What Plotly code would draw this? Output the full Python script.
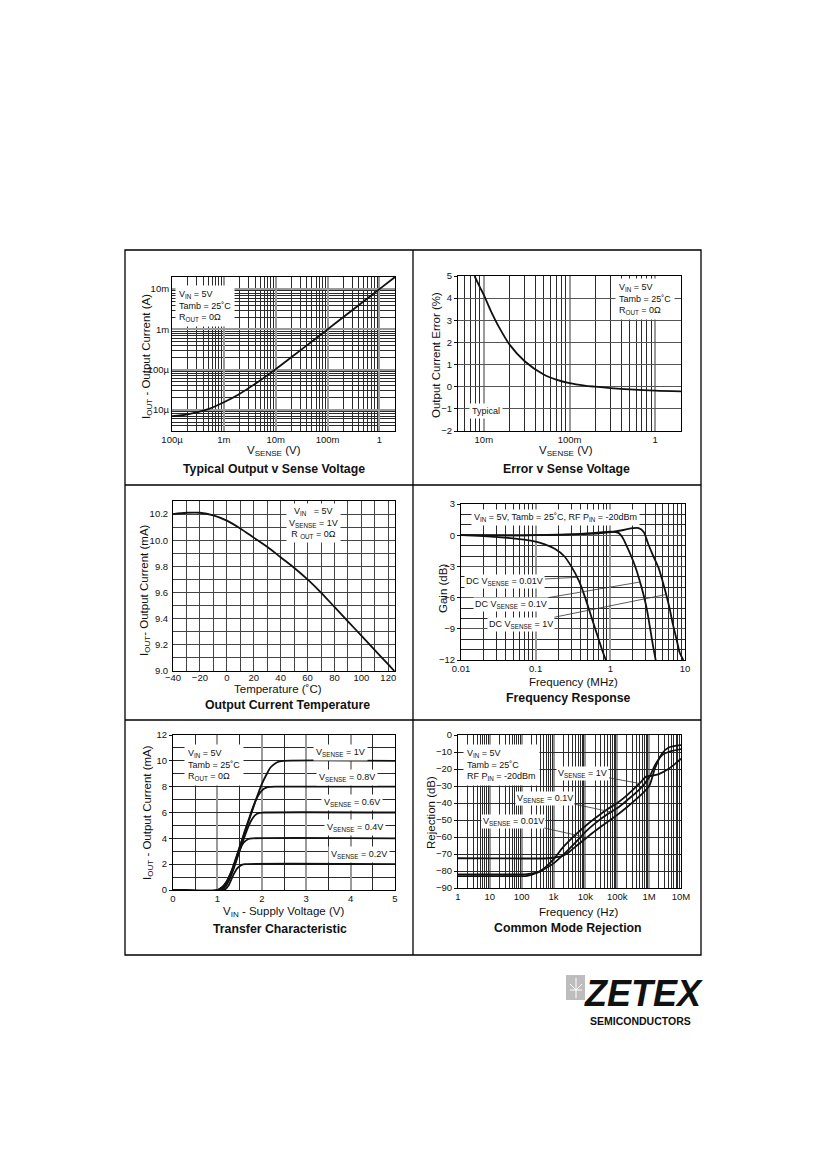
import math
import plotly.graph_objects as go

W, H = 826, 1169
OFF = 8  # page body margin of the html page
FONT = "Liberation Sans, Arial, Helvetica, sans-serif"

# ---------------- data ----------------
# Panel 1: Typical Output v Sense Voltage
p1_vsense = [1e-4, 2e-4, 5e-4, 1e-3, 2e-3, 5e-3, 1e-2, 2e-2, 5e-2, 0.1, 0.2, 0.5, 1.0, 2.0]
p1_iout = [7.0e-6, 7.8e-6, 1.05e-5, 1.55e-5, 2.5e-5, 5.4e-5, 1.03e-4, 2.03e-4,
           5.0e-4, 1.0e-3, 2.0e-3, 5.0e-3, 1.0e-2, 2.0e-2]
p1_xtickvals = [1e-4, 1e-3, 1e-2, 1e-1, 1]
p1_xticktext = ["100µ", "1m", "10m", "100m", "1"]
p1_ytickvals = [1e-5, 1e-4, 1e-3, 1e-2]
p1_yticktext = ["10µ", "100µ", "1m", "10m"]

# Panel 2: Error v Sense Voltage
p2_vsense = [0.0078, 0.009, 0.01, 0.012, 0.015, 0.02, 0.03, 0.05, 0.07, 0.1,
             0.15, 0.2, 0.3, 0.5, 1.0, 2.0]
p2_error = [5.0, 4.5, 4.15, 3.45, 2.7, 1.9, 1.15, 0.55, 0.32, 0.16,
            0.05, 0.0, -0.06, -0.12, -0.18, -0.21]
p2_xtickvals = [0.01, 0.1, 1]
p2_xticktext = ["10m", "100m", "1"]

# Panel 3: Output Current Temperature
p3_temp = [-40, -30, -20, -10, 0, 10, 20, 30, 40, 50, 60, 70, 80, 90, 100, 110, 120, 124.5]
p3_iout = [10.2, 10.21, 10.21, 10.19, 10.15, 10.09, 10.02, 9.95, 9.87, 9.79,
           9.70, 9.60, 9.49, 9.38, 9.27, 9.16, 9.05, 9.0]

# Panel 4: Frequency Response (MHz, dB)
p4_f_001 = [0.01, 0.02, 0.05, 0.09, 0.13, 0.18, 0.24, 0.3, 0.38, 0.46, 0.56, 0.69, 0.8, 0.87]
p4_g_001 = [0.0, -0.08, -0.3, -0.55, -0.85, -1.3, -2.0, -3.0, -4.4, -6.0, -7.9, -9.9, -11.3, -12.0]
p4_f_01 = [0.01, 0.05, 0.1, 0.2, 0.4, 0.7, 1.0, 1.3, 1.45, 1.6, 1.9, 2.2, 2.5, 2.8, 3.1, 3.4, 3.7, 4.05]
p4_g_01 = [0.0, -0.02, 0.0, 0.05, 0.12, 0.25, 0.35, 0.2, -0.2, -0.8, -2.0, -3.2, -4.5, -5.8, -7.2, -8.9, -10.5, -12.0]
p4_f_1 = [0.01, 0.05, 0.1, 0.2, 0.4, 0.7, 1.0, 1.5, 2.0, 2.4, 2.8, 3.2, 3.7, 4.4, 5.0, 5.6,
          6.2, 6.9, 7.7, 8.5, 9.5]
p4_g_1 = [0.0, -0.02, 0.0, 0.03, 0.1, 0.18, 0.3, 0.5, 0.68, 0.68, 0.3, -0.8, -1.9, -3.1, -4.4, -5.7,
          -7.0, -8.6, -10.0, -11.3, -12.0]
p4_xtickvals = [0.01, 0.1, 1, 10]
p4_xticktext = ["0.01", "0.1", "1", "10"]

# Panel 5: Transfer Characteristic (V, mA)
p5_vin_1 = [0, 1.0, 1.1, 1.2, 1.3, 1.4, 1.5, 1.6, 1.7, 1.8, 1.9, 2.0, 2.1, 2.2, 2.3, 2.4, 2.5, 5]
p5_i_1 = [0, 0, 0.2, 0.6, 1.3, 2.2, 3.3, 4.3, 5.3, 6.3, 7.3, 8.2, 8.9, 9.5, 9.8, 9.95, 10, 10]
p5_vin_08 = [0, 1.0, 1.1, 1.2, 1.3, 1.4, 1.5, 1.6, 1.7, 1.8, 1.9, 2.0, 2.1, 2.2, 2.3, 5]
p5_i_08 = [0, 0, 0.2, 0.6, 1.3, 2.3, 3.3, 4.4, 5.4, 6.4, 7.2, 7.7, 7.92, 7.98, 8, 8]
p5_vin_06 = [0, 1.05, 1.15, 1.25, 1.35, 1.45, 1.55, 1.65, 1.75, 1.85, 1.95, 2.05, 5]
p5_i_06 = [0, 0, 0.25, 0.7, 1.5, 2.5, 3.5, 4.5, 5.3, 5.8, 5.97, 6, 6]
p5_vin_04 = [0, 1.1, 1.2, 1.3, 1.4, 1.5, 1.6, 1.7, 1.8, 5]
p5_i_04 = [0, 0, 0.35, 1.1, 2.1, 3.1, 3.7, 3.95, 4, 4]
p5_vin_02 = [0, 1.15, 1.25, 1.35, 1.45, 1.55, 1.65, 5]
p5_i_02 = [0, 0, 0.35, 1.1, 1.7, 1.95, 2, 2]

# Panel 6: Common Mode Rejection (Hz, dB)
p6_f_1 = [1, 100, 150, 300, 500, 1e3, 2e3, 5e3, 1e4, 2e4, 5e4, 1e5, 2e5, 5e5, 8e5,
          1.2e6, 2e6, 4e6, 7e6, 1e7]
p6_r_1 = [-83, -83, -82.8, -81, -78.5, -73, -66, -58.5, -53.5, -49, -43.5, -40, -35.5, -28.5, -24.5,
          -24, -23, -20, -16.5, -14]
p6_f_01 = [1, 100, 150, 300, 500, 1e3, 2e3, 5e3, 1e4, 2e4, 5e4, 1e5, 2e5, 5e5, 1e6,
           1.5e6, 2.5e6, 4e6, 1e7]
p6_r_01 = [-82, -82, -81.8, -81, -79, -75.5, -70.5, -63, -57, -52, -46.5, -43, -38.5, -32, -25,
           -18, -12, -10, -8.3]
p6_f_001 = [1, 700, 1e3, 2e3, 3e3, 5e3, 1e4, 2e4, 5e4, 1e5, 2e5, 5e5, 1e6, 1.5e6, 2.5e6, 4e6, 1e7]
p6_r_001 = [-72.5, -72.5, -72.2, -71, -69, -65.5, -61, -56.5, -51, -47, -42.5, -36, -30, -20, -11,
            -7.5, -6]
p6_xtickvals = [1, 10, 100, 1e3, 1e4, 1e5, 1e6, 1e7]
p6_xticktext = ["1", "10", "100", "1k", "10k", "100k", "1M", "10M"]

# ---------------- geometry ----------------
# plot boxes in page pixels: (left, right, top, bottom)
BOX = {1: (172, 395, 277, 431), 2: (458, 681, 276, 431), 3: (173, 395, 501, 671),
       4: (461, 685, 504, 660), 5: (173, 395, 735, 890), 6: (458, 681, 735, 888)}
XLOG = {1: True, 2: True, 3: False, 4: True, 5: False, 6: True}
YLOG = {1: True, 2: False, 3: False, 4: False, 5: False, 6: False}
XR = {1: [-4, math.log10(2)], 2: [math.log10(5e-3), math.log10(2)], 3: [-40, 125],
      4: [-2, 1], 5: [0, 5], 6: [0, 7]}
YR = {1: [math.log10(3e-6), math.log10(2e-2)], 2: [-2, 5], 3: [9.0, 10.3],
      4: [-12, 3], 5: [0, 12], 6: [-90, 0]}


def fx(x):
    return (x - OFF) / W


def fy(y):
    return 1 - (y - OFF) / H


def sfx(n):
    return "" if n == 1 else str(n)


def to_px(n, x, y):
    l, r, t, b = BOX[n]
    xv = math.log10(x) if XLOG[n] else x
    yv = math.log10(y) if YLOG[n] else y
    xa, xb = XR[n]
    ya, yb = YR[n]
    return l + (xv - xa) / (xb - xa) * (r - l), b - (yv - ya) / (yb - ya) * (b - t)


def log_minor(lo, hi):
    vals = []
    for e in range(-8, 9):
        for m in range(2, 10):
            v = m * 10.0 ** e
            if lo * 0.999 <= v <= hi * 1.001:
                vals.append(v)
    return vals


fig = go.Figure()


def curve(n, xs, ys):
    fig.add_trace(go.Scatter(x=xs, y=ys, mode="lines", xaxis="x" + sfx(n), yaxis="y" + sfx(n),
                             line=dict(color="#111", width=1.8, shape="spline", smoothing=0.8),
                             hoverinfo="skip", showlegend=False))


curve(1, p1_vsense, p1_iout)
curve(2, p2_vsense, p2_error)
curve(3, p3_temp, p3_iout)
curve(4, p4_f_001, p4_g_001)
curve(4, p4_f_01, p4_g_01)
curve(4, p4_f_1, p4_g_1)
for xs, ys in [(p5_vin_1, p5_i_1), (p5_vin_08, p5_i_08), (p5_vin_06, p5_i_06),
               (p5_vin_04, p5_i_04), (p5_vin_02, p5_i_02)]:
    curve(5, xs, ys)
curve(6, p6_f_1, p6_r_1)
curve(6, p6_f_01, p6_r_01)
curve(6, p6_f_001, p6_r_001)

GRID_DARK = "#2a2a2a"
GRID_GRAY = "#9a9a9a"


def base_axis(n, which):
    l, r, t, b = BOX[n]
    d = dict(showline=True, mirror=True, linecolor="black", linewidth=1, zeroline=False,
             ticks="", tickfont=dict(size=9.5, color="#111", family=FONT), showgrid=True,
             fixedrange=True, automargin=False)
    if which == "x":
        d.update(domain=[fx(l), fx(r)], anchor="y" + sfx(n), range=XR[n],
                 type="log" if XLOG[n] else "linear")
    else:
        d.update(domain=[fy(b), fy(t)], anchor="x" + sfx(n), range=YR[n],
                 type="log" if YLOG[n] else "linear")
    return d


axes = {}
# panel 1
a = base_axis(1, "x")
a.update(tickmode="array", tickvals=p1_xtickvals, ticktext=p1_xticktext, gridcolor=GRID_GRAY, gridwidth=2.2,
         minor=dict(tickmode="array", tickvals=log_minor(1e-4, 2), showgrid=True, gridcolor=GRID_DARK, gridwidth=0.7))
axes["xaxis"] = a
a = base_axis(1, "y")
a.update(tickmode="array", tickvals=p1_ytickvals, ticktext=p1_yticktext, gridcolor=GRID_GRAY, gridwidth=2.2,
         minor=dict(tickmode="array", tickvals=log_minor(3e-6, 2e-2), showgrid=True, gridcolor=GRID_DARK, gridwidth=0.7))
axes["yaxis"] = a
# panel 2
a = base_axis(2, "x")
a.update(tickmode="array", tickvals=p2_xtickvals, ticktext=p2_xticktext, gridcolor=GRID_GRAY, gridwidth=2.2,
         minor=dict(tickmode="array", tickvals=log_minor(5e-3, 2), showgrid=True, gridcolor=GRID_DARK, gridwidth=0.7))
axes["xaxis2"] = a
a = base_axis(2, "y")
a.update(tick0=-2, dtick=1, gridcolor="#555", gridwidth=1, ticks="outside", ticklen=3, tickcolor="#111")
axes["yaxis2"] = a
# panel 3
a = base_axis(3, "x")
a.update(tick0=-40, dtick=20, gridcolor="#444", gridwidth=0.9, ticklabelstandoff=-2,
         minor=dict(tick0=-40, dtick=10, showgrid=True, gridcolor="#444", gridwidth=0.9))
axes["xaxis3"] = a
a = base_axis(3, "y")
a.update(tick0=9.0, dtick=0.2, tickformat=".1f", gridcolor="#444", gridwidth=0.9, ticklabelstandoff=2,
         minor=dict(tick0=9.0, dtick=0.1, showgrid=True, gridcolor="#444", gridwidth=0.9))
axes["yaxis3"] = a
# panel 4
a = base_axis(4, "x")
a.update(tickmode="array", tickvals=p4_xtickvals, ticktext=p4_xticktext, gridcolor=GRID_GRAY, gridwidth=2.2,
         minor=dict(tickmode="array", tickvals=log_minor(0.01, 10), showgrid=True, gridcolor=GRID_DARK, gridwidth=0.7))
axes["xaxis4"] = a
a = base_axis(4, "y")
a.update(tick0=-12, dtick=3, gridcolor="#555", gridwidth=1, ticks="outside", ticklen=3, tickcolor="#111",
         minor=dict(tick0=-12, dtick=1, showgrid=True, gridcolor=GRID_DARK, gridwidth=0.7))
axes["yaxis4"] = a
# panel 5
a = base_axis(5, "x")
a.update(tick0=0, dtick=1, gridcolor=GRID_GRAY, gridwidth=1.8,
         minor=dict(tick0=0, dtick=0.5, showgrid=True, gridcolor=GRID_DARK, gridwidth=0.7))
axes["xaxis5"] = a
a = base_axis(5, "y")
a.update(tick0=0, dtick=2, gridcolor=GRID_DARK, gridwidth=0.8, ticks="outside", ticklen=3, tickcolor="#111",
         minor=dict(tick0=0, dtick=1, showgrid=True, gridcolor=GRID_DARK, gridwidth=0.7))
axes["yaxis5"] = a
# panel 6
a = base_axis(6, "x")
a.update(tickmode="array", tickvals=p6_xtickvals, ticktext=p6_xticktext, gridcolor=GRID_GRAY, gridwidth=2.2,
         minor=dict(tickmode="array", tickvals=log_minor(1, 1e7), showgrid=True, gridcolor=GRID_DARK, gridwidth=0.7))
axes["xaxis6"] = a
a = base_axis(6, "y")
a.update(tick0=-90, dtick=10, gridcolor=GRID_DARK, gridwidth=0.8, ticks="outside", ticklen=3, tickcolor="#111")
axes["yaxis6"] = a

ann = []


def ptext(text, x, y, size, angle=0, xanchor="center", align="center", bg=None, color="#111",
          family=FONT, pad=1):
    d = dict(text=text, x=fx(x), y=fy(y), xref="paper", yref="paper", showarrow=False,
             xanchor=xanchor, yanchor="middle", align=align, textangle=angle,
             font=dict(size=size, color=color, family=family), borderpad=pad)
    if bg:
        d["bgcolor"] = bg
    ann.append(d)


def leader(n, text, tx, ty, hx, hy, size=9.5):
    hpx, hpy = to_px(n, hx, hy)
    ann.append(dict(text=text, xref="x" + sfx(n), yref="y" + sfx(n),
                    x=math.log10(hx) if XLOG[n] else hx, y=math.log10(hy) if YLOG[n] else hy,
                    ax=tx - hpx, ay=ty - hpy, showarrow=True, arrowhead=0, arrowwidth=0.8,
                    arrowcolor="#333", standoff=0, startstandoff=0, bgcolor="white", borderpad=1,
                    font=dict(size=size, color="#111", family=FONT)))


SUB = "<sub>%s</sub>"
VS = "V" + SUB % "SENSE"
VI = "V" + SUB % "IN"
RO = "R" + SUB % "OUT"
IO = "I" + SUB % "OUT"

# panel titles & axis titles
TS, AS = 12.3, 11.5
ptext("<b>Typical Output v Sense Voltage</b>", 274, 469, TS)
ptext(VS + " (V)", 274, 451, AS)
ptext(IO + " - Output Current (A)", 147, 357, AS, angle=-90)
ptext("<b>Error v Sense Voltage</b>", 566, 469, TS)
ptext(VS + " (V)", 566, 451, AS)
ptext("Output Current Error (%)", 436, 355, AS, angle=-90)
ptext("<b>Output Current Temperature</b>", 287, 705, TS)
ptext("Temperature (˚C)", 278, 689, AS)
ptext(IO + "- Output Current (mA)", 145, 590, AS, angle=-90)
ptext("<b>Frequency Response</b>", 568, 698, TS)
ptext("Frequency (MHz)", 573, 682, AS)
ptext("Gain (dB)", 443, 588, AS, angle=-90)
ptext("<b>Transfer Characteristic</b>", 280, 929, TS)
ptext(VI + " - Supply Voltage (V)", 283, 912, AS)
ptext(IO + " - Output Current (mA)", 148, 813, AS, angle=-90)
ptext("<b>Common Mode Rejection</b>", 568, 928, TS)
ptext("Frequency (Hz)", 578, 912, AS)
ptext("Rejection (dB)", 431, 813, AS, angle=-90)

# condition boxes
LS = 9
ptext(VI + " = 5V<br>Tamb = 25˚C<br>" + RO + " = 0Ω", 175, 306, LS, xanchor="left", align="left", bg="white", pad=3)
ptext(VI + " = 5V<br>Tamb = 25˚C<br>" + RO + " = 0Ω", 615, 299, LS, xanchor="left", align="left", bg="white", pad=3)
ptext("Typical", 486, 411, LS, bg="white", pad=2)
ptext(VI + "   = 5V<br>" + VS + " = 1V<br>R " + SUB % "OUT" + " = 0Ω", 313, 523, LS, bg="white", pad=2)
ptext(VI + " = 5V, Tamb = 25˚C, RF P" + SUB % "IN" + " = -20dBm", 555, 518, LS, bg="white", pad=2)
ptext(VI + " = 5V<br>Tamb = 25˚C<br>" + RO + " = 0Ω", 184, 765, LS, xanchor="left", align="left", bg="white", pad=3)
ptext(VI + " = 5V<br>Tamb = 25˚C<br>RF P" + SUB % "IN" + " = -20dBm", 463, 765, LS, xanchor="left", align="left", bg="white", pad=3)

# transfer characteristic labels
for txt, x, y in [("1V", 340, 752), ("0.8V", 347, 777), ("0.6V", 352, 802),
                  ("0.4V", 355, 828), ("0.2V", 359, 854)]:
    ptext(VS + " = " + txt, x, y, LS, bg="white", pad=2)

# leaders
leader(4, "DC " + VS + " = 0.01V", 505, 581, 0.36, -4.05, LS)
leader(4, "DC " + VS + " = 0.1V", 511, 604, 2.5, -4.5, LS)
leader(4, "DC " + VS + " = 1V", 521, 624, 5.6, -5.7, LS)
leader(6, VS + " = 1V", 583, 773, 5e5, -28.5, LS)
leader(6, VS + " = 0.1V", 545, 798, 6.6e4, -45.3, LS)
leader(6, VS + " = 0.01V", 513, 821, 1.1e4, -60.3, LS)

# logo
ptext("<b><i>ZETEX</i></b>", 643, 993, 36, family=FONT, color="#111")
ptext("<b>SEMICONDUCTORS</b>", 640, 1021, 10.5, color="#111")


def prect(x0, y0, x1, y1, **kw):
    return dict(type="rect", xref="paper", yref="paper", x0=fx(x0), x1=fx(x1),
                y0=fy(y1), y1=fy(y0), **kw)


def pline(x0, y0, x1, y1, w=1.3, c="black"):
    return dict(type="line", xref="paper", yref="paper", x0=fx(x0), x1=fx(x1),
                y0=fy(y0), y1=fy(y1), line=dict(color=c, width=w))


shapes = [
    prect(125, 250, 701, 955, line=dict(color="black", width=1.3)),
    pline(413, 250, 413, 955),
    pline(125, 485, 701, 485),
    pline(125, 720, 701, 720),
    prect(566, 975, 585, 1000, line=dict(width=0), fillcolor="#bdbdbd"),
    pline(576, 978, 576, 998, w=1, c="white"),
    pline(570, 990, 582, 990, w=1, c="white"),
    pline(570, 984, 576, 990, w=1, c="white"),
    pline(582, 984, 576, 990, w=1, c="white"),
]

fig.update_layout(width=W, height=H, autosize=False, margin=dict(l=0, r=0, t=0, b=0, autoexpand=False),
                  paper_bgcolor="white", plot_bgcolor="white", showlegend=False,
                  font=dict(family=FONT, color="#111"), annotations=ann, shapes=shapes, **axes)

fig.write_html("out.html")
